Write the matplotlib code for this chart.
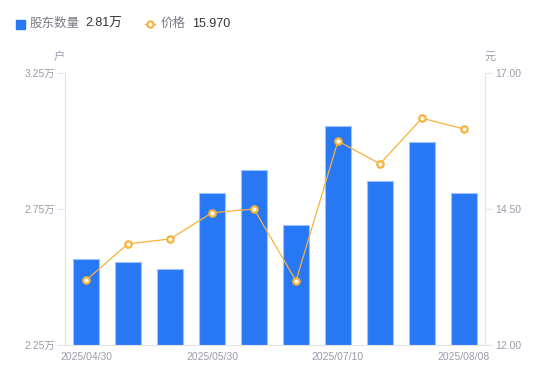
import matplotlib
matplotlib.use("Agg")
import matplotlib.pyplot as plt
from matplotlib.lines import Line2D
import numpy as np

plt.rcParams["font.family"] = ["Liberation Sans", "Noto Sans CJK SC", "DejaVu Sans"]

# Data
dates = ["2025/04/30", "2025/05/09", "2025/05/20", "2025/05/30", "2025/06/10",
         "2025/06/20", "2025/07/10", "2025/07/18", "2025/07/31", "2025/08/08"]
holders = [2.566, 2.555, 2.529, 2.809, 2.893, 2.691, 3.055, 2.853, 2.996, 2.81]  # 万户
price = [13.19, 13.86, 13.95, 14.43, 14.50, 13.18, 15.75, 15.33, 16.17, 15.97]  # 元

left_ticks = [2.25, 2.75, 3.25]
right_ticks = [12.0, 14.5, 17.0]

BLUE = "#2878F5"
ORANGE = "#F7B23B"
AXIS = "#E3E3E8"
TICK_TXT = "#9A9AAB"

fig = plt.figure(figsize=(5.5, 3.81), dpi=100)
ax = fig.add_axes([65 / 550, 1 - 345 / 381, 420 / 550, 272 / 381])
ax2 = ax.twinx()

x = np.arange(len(dates))
ax.bar(x, holders, width=0.6, bottom=0, color=BLUE,
       edgecolor="#9CC3FA", linewidth=0.8, zorder=2)
ax.set_ylim(left_ticks[0], left_ticks[-1])
ax.set_xlim(-0.5, len(dates) - 0.5)

ax2.plot(x, price, "-", color=ORANGE, lw=0.9, marker="o", ms=4.6,
         mfc="white", mec=ORANGE, mew=1.6, zorder=3)
ax2.set_ylim(right_ticks[0], right_ticks[-1])

ax.set_yticks(left_ticks)
ax.set_yticklabels([f"{v:.2f}万" for v in left_ticks])
ax2.set_yticks(right_ticks)
ax2.set_yticklabels([f"{v:.2f}" for v in right_ticks])

shown = [0, 3, 6, 9]
ax.set_xticks(shown)
ax.set_xticklabels([dates[i] for i in shown])

for a in (ax, ax2):
    for s in a.spines.values():
        s.set_visible(False)
    a.tick_params(colors=TICK_TXT, labelsize=7.5, length=5, width=0.8, color=AXIS)
ax.spines["left"].set_visible(True)
ax.spines["left"].set_color(AXIS)
ax.spines["bottom"].set_visible(True)
ax.spines["bottom"].set_color(AXIS)
ax2.spines["right"].set_visible(True)
ax2.spines["right"].set_color(AXIS)
ax.tick_params(axis="x", length=0, pad=5)
ax.tick_params(axis="y", pad=2)
ax2.tick_params(axis="y", pad=2)
ax.set_zorder(ax2.get_zorder() - 1)
ax.patch.set_visible(True)
ax2.patch.set_visible(False)

fig.text(59 / 550, 1 - 57 / 381, "户", color=TICK_TXT, fontsize=8, ha="center", va="center")
fig.text(490 / 550, 1 - 57 / 381, "元", color=TICK_TXT, fontsize=8, ha="center", va="center")

# Legend row at the top
ly = 1 - 24 / 381
fig.patches.append(plt.Rectangle((16 / 550, 1 - 29 / 381), 9 / 550, 9 / 381,
                                 transform=fig.transFigure, color=BLUE))
fig.text(30 / 550, ly, "股东数量", color="#7A7A88", fontsize=9, va="center")
fig.text(85 / 550, ly, f"{holders[-1]:.2f}万", color="#333333", fontsize=9, va="center")
fig.lines.append(Line2D([145 / 550, 155 / 550], [ly, ly], transform=fig.transFigure,
                        color=ORANGE, lw=1))
fig.lines.append(Line2D([150 / 550], [ly], transform=fig.transFigure, color=ORANGE,
                        marker="o", ms=4.5, mfc="white", mec=ORANGE, mew=1.5))
fig.text(161 / 550, ly, "价格", color="#7A7A88", fontsize=9, va="center")
fig.text(192 / 550, ly, f"{price[-1]:.3f}", color="#333333", fontsize=9, va="center")

fig.savefig("out.png", dpi=100)
